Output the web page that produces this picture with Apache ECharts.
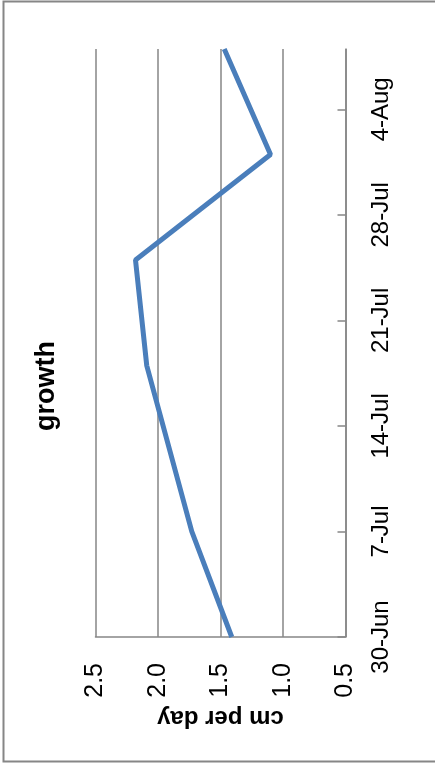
<!DOCTYPE html>
<html>
<head>
<meta charset="utf-8">
<script src="https://cdn.jsdelivr.net/npm/echarts@6/dist/echarts.min.js"></script>
<style>
html, body { margin: 0; padding: 0; background: #fff; }
#chart { width: 435px; height: 765px; }
</style>
</head>
<body>
<div id="chart"></div>
<script>
// data
var dates = ['2014-06-30', '2014-07-07', '2014-07-18', '2014-07-25', '2014-08-01', '2014-08-08'];
var growth = [1.41, 1.73, 2.09, 2.18, 1.10, 1.47];
var dateTicks = ['2014-06-30', '2014-07-07', '2014-07-14', '2014-07-21', '2014-07-28', '2014-08-04'];
var startDate = '2014-06-30';
var endDate = '2014-08-08';
var valueMin = 0.5, valueMax = 2.5, valueStep = 0.5;

var monthNames = ['Jan', 'Feb', 'Mar', 'Apr', 'May', 'Jun', 'Jul', 'Aug', 'Sep', 'Oct', 'Nov', 'Dec'];
var DAY = 86400000;
function dayOf(d) { return (Date.parse(d) - Date.parse(startDate)) / DAY; }
function dayLabel(n) {
    var d = new Date(Date.parse(startDate) + n * DAY);
    return d.getUTCDate() + '-' + monthNames[d.getUTCMonth()];
}

var points = dates.map(function (d, i) { return [growth[i], dayOf(d)]; });
var tickDays = dateTicks.map(dayOf);

var font = 'Liberation Sans';
var gray = '#868686';

var mychart = echarts.init(document.getElementById('chart'));
mychart.setOption({
    animation: false,
    textStyle: { fontFamily: font },
    grid: { left: 95.5, right: 89.5, top: 49, bottom: 128, containLabel: false },
    xAxis: {
        type: 'value',
        inverse: true,
        min: valueMin,
        max: valueMax,
        interval: valueStep,
        position: 'bottom',
        name: 'cm per day',
        nameLocation: 'middle',
        nameRotate: 180,
        nameGap: 66,
        nameTextStyle: { fontFamily: font, fontSize: 24, fontWeight: 'bold', color: '#000' },
        axisLine: { show: true, onZero: false, lineStyle: { color: gray, width: 1.5 } },
        axisTick: { show: false },
        splitLine: { show: true, lineStyle: { color: gray, width: 1.5 } },
        axisLabel: {
            rotate: 90, margin: 26, fontSize: 25, color: '#000', fontFamily: font,
            formatter: function (v) { return v.toFixed(1); }
        }
    },
    yAxis: {
        type: 'value',
        min: 0,
        max: dayOf(endDate),
        interval: 7,
        position: 'right',
        axisLine: { show: true, onZero: false, lineStyle: { color: gray, width: 1.5 } },
        axisTick: { show: true, inside: true, length: 8, customValues: tickDays, lineStyle: { color: gray, width: 1.5 } },
        splitLine: { show: false },
        axisLabel: {
            rotate: 90, margin: 24, fontSize: 24, color: '#000', fontFamily: font,
            customValues: tickDays,
            formatter: function (v) { return dayLabel(v); }
        }
    },
    series: [{
        name: 'growth',
        type: 'line',
        data: points,
        showSymbol: false,
        lineStyle: { color: '#4a7ebb', width: 5 }
    }],
    graphic: [{
        type: 'rect',
        shape: { x: 3.5, y: 1.5, width: 440, height: 760 },
        style: { fill: 'none', stroke: gray, lineWidth: 2 }
    }, {
        type: 'text',
        x: 47,
        y: 386,
        rotation: Math.PI / 2,
        style: { text: 'growth', font: 'bold 27px "Liberation Sans"', fill: '#000', align: 'center', verticalAlign: 'middle' }
    }]
});
</script>
</body>
</html>
